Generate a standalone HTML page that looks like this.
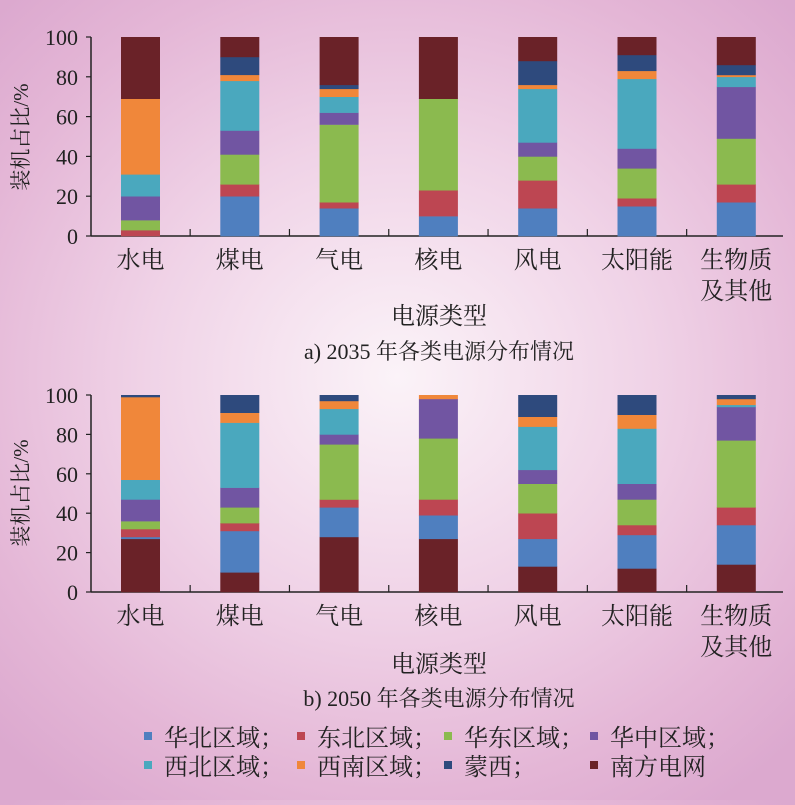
<!DOCTYPE html>
<html><head><meta charset="utf-8"><style>
html,body{margin:0;padding:0;}
body{width:795px;height:800px;overflow:hidden;background:radial-gradient(ellipse 70% 65% at 50% 47%,#fbf3f8 0%,#f0d3e7 45%,#e4b6d6 80%,#dca9cf 100%);}
svg text{font-family:"Liberation Serif","Noto Serif CJK SC",serif;fill:#222;}
</style></head><body>
<svg width="795" height="800" xmlns="http://www.w3.org/2000/svg" id="s"></svg>
<script>
(function(){
const C={b:"#4f7fbf",r:"#bd4652",g:"#8bba4f",p:"#7155a2",c:"#4aa8be",o:"#f0873a",n:"#2e4a7d",m:"#6a2228"};
const dataA=[
[["b",0],["r",3],["g",5],["p",12],["c",11],["o",38],["m",31]],
[["b",20],["r",6],["g",15],["p",12],["c",25],["o",3],["n",9],["m",10]],
[["b",14],["r",3],["g",39],["p",6],["c",8],["o",4],["n",2],["m",24]],
[["b",10],["r",13],["g",46],["m",31]],
[["b",14],["r",14],["g",12],["p",7],["c",27],["o",2],["n",12],["m",12]],
[["b",15],["r",4],["g",15],["p",10],["c",35],["o",4],["n",8],["m",9]],
[["b",17],["r",9],["g",23],["p",26],["c",5],["o",1],["n",5],["m",14]]];
const dataB=[
[["m",27],["b",1],["r",4],["g",4],["p",11],["c",10],["o",42],["n",1]],
[["m",10],["b",21],["r",4],["g",8],["p",10],["c",33],["o",5],["n",9]],
[["m",28],["b",15],["r",4],["g",28],["p",5],["c",13],["o",4],["n",3]],
[["m",27],["b",12],["r",8],["g",31],["p",20],["o",2]],
[["m",13],["b",14],["r",13],["g",15],["p",7],["c",22],["o",5],["n",11]],
[["m",12],["b",17],["r",5],["g",13],["p",8],["c",28],["o",7],["n",10]],
[["m",14],["b",20],["r",9],["g",34],["p",17],["c",1],["o",3],["n",2]]];
const cats=["水电","煤电","气电","核电","风电","太阳能","生物质"];
const SP=99.3, BW=39, X0=140.5;
let h="";
function chart(data,y0,y100,labY,xlabY,title,titleY,ylabY){
 const sc=(y0-y100)/100;
 h+=`<line x1="91" y1="${y100}" x2="91" y2="${y0}" stroke="#222" stroke-width="1.5"/>`;
 h+=`<line x1="91" y1="${y0}" x2="783" y2="${y0}" stroke="#222" stroke-width="1.5"/>`;
 for(let v=0;v<=100;v+=20){const y=y0-v*sc;h+=`<line x1="86" y1="${y}" x2="91" y2="${y}" stroke="#222" stroke-width="1.2"/><text x="78" y="${y+8}" font-size="22" text-anchor="end">${v}</text>`;}
 for(let i=0;i<6;i++){const x=X0+SP/2+SP*i;h+=`<line x1="${x}" y1="${y0}" x2="${x}" y2="${y0-7}" stroke="#222" stroke-width="1.2"/>`;}
 data.forEach((bar,i)=>{const x=X0+SP*i-BW/2;let acc=0;bar.forEach(([k,v])=>{if(v>0){const yt=y0-(acc+v)*sc;h+=`<rect x="${x}" y="${yt.toFixed(1)}" width="${BW}" height="${(v*sc+0.3).toFixed(1)}" fill="${C[k]}"/>`;}acc+=v;});});
 cats.forEach((c,i)=>{h+=`<text x="${X0+SP*i}" y="${labY}" font-size="24" text-anchor="middle">${c}</text>`;});
 h+=`<text x="${X0+SP*6}" y="${labY+31}" font-size="24" text-anchor="middle">及其他</text>`;
 h+=`<text x="439" y="${xlabY}" font-size="24" text-anchor="middle">电源类型</text>`;
 h+=`<text x="439" y="${titleY}" font-size="22" text-anchor="middle">${title}</text>`;
 h+=`<text transform="translate(28,${ylabY}) rotate(-90)" font-size="21" text-anchor="middle">装机占比/%</text>`;
}
chart(dataA,236,37,268,324,"a) 2035 年各类电源分布情况",359,137);
chart(dataB,592,395,624,672,"b) 2050 年各类电源分布情况",706,493);
const leg=[[148,746,"b","华北区域；"],[301,746,"r","东北区域；"],[448,746,"g","华东区域；"],[594,746,"p","华中区域；"],
[148,775,"c","西北区域；"],[301,775,"o","西南区域；"],[448,775,"n","蒙西；"],[594,775,"m","南方电网"]];
leg.forEach(([x,y,k,t])=>{h+=`<rect x="${x-4}" y="${y-14}" width="8" height="8" fill="${C[k]}"/><text x="${x+16}" y="${y}" font-size="24">${t}</text>`;});
document.getElementById("s").innerHTML=h;
})();
</script>
</body></html>
